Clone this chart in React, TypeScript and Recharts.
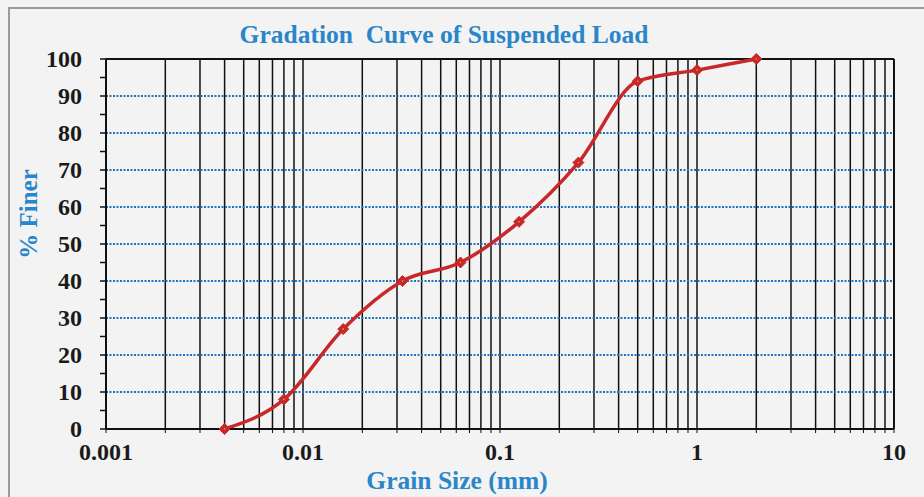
import { CartesianGrid, Line, LineChart, ReferenceLine, XAxis, YAxis } from "recharts";

const grainSize = [0.004, 0.008, 0.016, 0.032, 0.063, 0.125, 0.25, 0.5, 1, 2];
const percentFiner = [0, 8, 27, 40, 45, 56, 72, 94, 97, 100];

const xTicks = [
    0.001, 0.002, 0.003, 0.004, 0.005, 0.006, 0.007, 0.008, 0.009,
    0.01, 0.02, 0.03, 0.04, 0.05, 0.06, 0.07, 0.08, 0.09,
    0.1, 0.2, 0.3, 0.4, 0.5, 0.6, 0.7, 0.8, 0.9,
    1, 2, 3, 4, 5, 6, 7, 8, 9,
    10,
];
const xLabels = [0.001, 0.01, 0.1, 1, 10];
const yTicks = [0, 5, 10, 15, 20, 25, 30, 35, 40, 45, 50, 55, 60, 65, 70, 75, 80, 85, 90, 95, 100];
const yLabels = [0, 10, 20, 30, 40, 50, 60, 70, 80, 90, 100];
const dottedRows = [10, 20, 30, 40, 50, 60, 70, 80, 90];

const data = grainSize.map((size, i) => ({ size, finer: percentFiner[i] }));

const serif = "'Liberation Serif', 'Times New Roman', serif";
const blue = "#2a86c9";
const red = "#c9282b";

function XTick({ x, y, payload }: any) {
    if (!xLabels.includes(payload.value)) return null;
    return (
        <text x={x} y={y + 25} textAnchor="middle" fontFamily={serif} fontWeight="bold" fontSize={24} fill="#1a1a1a">
            {String(payload.value)}
        </text>
    );
}

function YTick({ x, y, payload }: any) {
    if (!yLabels.includes(payload.value)) return null;
    return (
        <text x={x - 16} y={y + 8} textAnchor="end" fontFamily={serif} fontWeight="bold" fontSize={24} fill="#1a1a1a">
            {payload.value}
        </text>
    );
}

function Diamond({ cx, cy }: any) {
    if (cx == null || cy == null) return null;
    const r = 5.5;
    return (
        <g>
            <polygon points={`${cx},${cy - r} ${cx + r},${cy} ${cx},${cy + r} ${cx - r},${cy}`} fill={red} stroke={red} strokeWidth={1} />
            <circle cx={cx} cy={cy} r={0.8} fill="#d9b24a" />
        </g>
    );
}

export default function App() {
    return (
        <div style={{ position: "absolute", left: 0, top: 0, width: 924, height: 497, background: "#f3f3f3", overflow: "hidden" }}>
            <div style={{ position: "absolute", left: 8, top: 7, width: 930, height: 500, borderTop: "2px solid #9a9a9a", borderLeft: "2px solid #9a9a9a" }} />
            <div
                style={{
                    position: "absolute", left: 0, width: 888, top: 22, textAlign: "center",
                    fontFamily: serif, fontWeight: "bold", fontSize: 25.5, color: blue, whiteSpace: "pre", lineHeight: "25px",
                }}
            >
                {"Gradation  Curve of Suspended Load"}
            </div>
            <div
                style={{
                    position: "absolute", left: 0, width: 914, top: 471, textAlign: "center",
                    fontFamily: serif, fontWeight: "bold", fontSize: 25.5, color: blue, lineHeight: "19px",
                }}
            >
                Grain Size (mm)
            </div>
            <div
                style={{
                    position: "absolute", left: 29 - 60, top: 214 - 15, width: 120, height: 30, textAlign: "center",
                    transform: "rotate(-90deg)", fontFamily: serif, fontWeight: "bold", fontSize: 25, color: blue,
                    lineHeight: "30px", whiteSpace: "pre",
                }}
            >
                % Finer
            </div>
            <div style={{ position: "absolute", left: 0, top: 0 }}>
                <LineChart width={924} height={497} data={data} margin={{ top: 59, right: 30, bottom: 28, left: 6 }}>
                    <CartesianGrid horizontal={false} vertical stroke="#111" strokeWidth={1.5} />
                    <XAxis
                        dataKey="size"
                        type="number"
                        scale="log"
                        domain={[0.001, 10]}
                        ticks={xTicks}
                        interval={0}
                        allowDataOverflow
                        height={40}
                        tickSize={4}
                        axisLine={{ stroke: "#111", strokeWidth: 2 }}
                        tickLine={{ stroke: "#111", strokeWidth: 1 }}
                        tick={<XTick />}
                    />
                    <YAxis
                        type="number"
                        domain={[0, 100]}
                        ticks={yTicks}
                        interval={0}
                        width={100}
                        tickSize={6}
                        axisLine={{ stroke: "#111", strokeWidth: 2 }}
                        tickLine={{ stroke: "#111", strokeWidth: 1.5 }}
                        tick={<YTick />}
                    />
                    {dottedRows.map((v) => (
                        <ReferenceLine key={v} y={v} stroke="#1c74bf" strokeWidth={2} strokeDasharray="2 1.5" />
                    ))}
                    <ReferenceLine y={100} stroke="#111" strokeWidth={2} />
                    <ReferenceLine x={10} stroke="#111" strokeWidth={2} />
                    <Line
                        type="monotone"
                        dataKey="finer"
                        stroke={red}
                        strokeWidth={3.5}
                        dot={<Diamond />}
                        activeDot={false}
                        isAnimationActive={false}
                    />
                </LineChart>
            </div>
        </div>
    );
}
